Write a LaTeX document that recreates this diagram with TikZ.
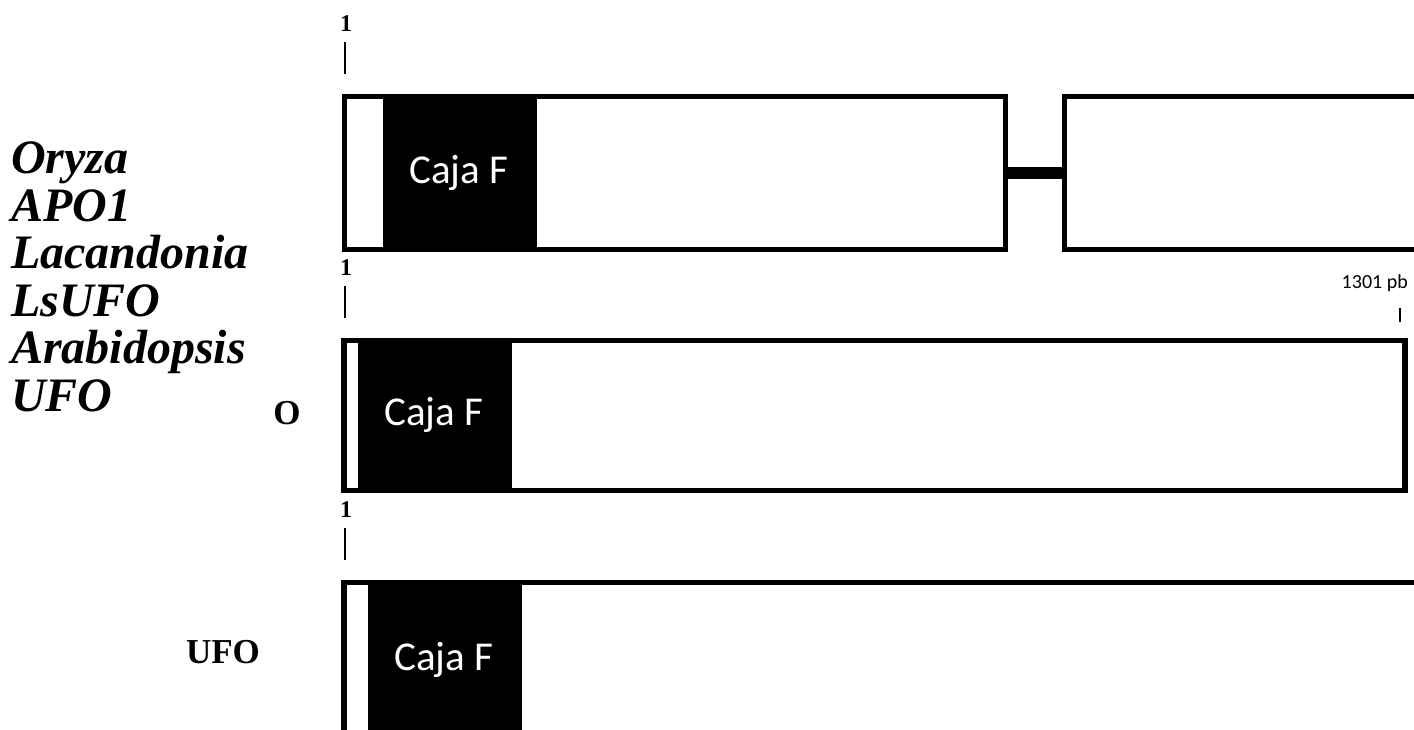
\documentclass[tikz,border=0pt]{standalone}
\usepackage{fontspec}
\setmainfont{Liberation Serif}
\newfontfamily\calibrifont{Carlito}
\begin{document}
\begin{tikzpicture}[x=1pt,y=-1pt,
  gene/.style={draw=black,line width=5.5pt,inner sep=0pt,outer sep=0pt,rectangle},
  fbox/.style={fill=black,draw=none,inner sep=0pt,rectangle},
  fboxtext/.style={text=white,inner sep=0pt,
    font=\calibrifont\fontsize{41}{46}\selectfont},
  species/.style={anchor=base west,inner sep=0pt,
    font=\fontsize{48}{50}\selectfont\bfseries\itshape},
  genelab/.style={inner sep=0pt,font=\fontsize{35}{40}\selectfont\bfseries},
  startlab/.style={inner sep=0pt,font=\fontsize{24}{26}\selectfont\bfseries},
  tick/.style={line width=2pt}]
\clip (0,0) rectangle (1414,730);
\fill[white] (0,0) rectangle (1414,730);

% species names
\node[species] (s1) at (11,174) {Oryza};
\node[species] (s2) at (11,221.4) {APO1};
\node[species] (s3) at (11,268.8) {Lacandonia};
\node[species] (s4) at (11,316.2) {LsUFO};
\node[species] (s5) at (11,363.6) {Arabidopsis};
\node[species] (s6) at (11,411) {UFO};

% remnants of gene names
\node[genelab] (g2) at (287,413) {O};
\node[genelab] (g3) at (223,652) {UFO};

% F-box domains
\node[fbox,minimum width=154pt,minimum height=153pt] (f1) at (460,173) {};
\node[fbox,minimum width=154pt,minimum height=150pt] (f2) at (435,415.5) {};
\node[fbox,minimum width=154pt,minimum height=200pt] (f3) at (445,682) {};
\node[fboxtext] (t1) at (459,173) {Caja F};
\node[fboxtext] (t2) at (434,415) {Caja F};
\node[fboxtext] (t3) at (444,660) {Caja F};

% gene outlines
\node[gene,minimum width=661pt,minimum height=153pt] (b1) at (675,173) {};
\node[gene,minimum width=436pt,minimum height=153pt] (b1b) at (1282.5,173) {};
\node[gene,minimum width=1061pt,minimum height=150pt] (b2) at (874.5,415.5) {};
\node[gene,minimum width=1200pt,minimum height=300pt] (b3) at (944,732.5) {};

% intron joining the two exons
\draw[line width=12pt] (b1.east) -- (b1b.west);

% start positions
\node[startlab] (n1) at (346,24) {1};
\node[startlab] (n2) at (346,268) {1};
\node[startlab] (n3) at (346,510) {1};
\coordinate (k1a) at (345,42);  \coordinate (k1b) at (345,74);
\coordinate (k2a) at (345,286); \coordinate (k2b) at (345,318);
\coordinate (k3a) at (345,528); \coordinate (k3b) at (345,560);
\draw[tick] (k1a) -- (k1b);
\draw[tick] (k2a) -- (k2b);
\draw[tick] (k3a) -- (k3b);

% end position
\node[anchor=east,inner sep=0pt,font=\calibrifont\fontsize{20}{24}\selectfont] (e2) at (1408,283) {1301 pb};
\coordinate (k4a) at (1400,308); \coordinate (k4b) at (1400,322);
\draw[tick] (k4a) -- (k4b);
\end{tikzpicture}
\end{document}
